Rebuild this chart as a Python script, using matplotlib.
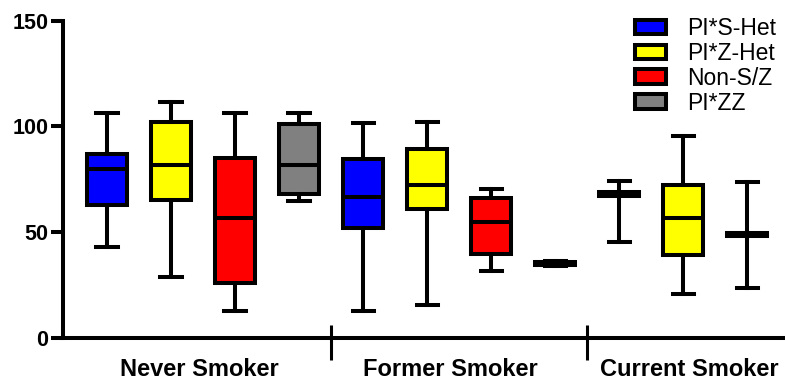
import matplotlib
matplotlib.use("Agg")
import matplotlib.pyplot as plt
from matplotlib.patches import Patch

plt.rcParams['font.family'] = ['Liberation Sans', 'DejaVu Sans']

groups = ["Never Smoker", "Former Smoker", "Current Smoker"]
genotypes = ["PI*S-Het", "PI*Z-Het", "Non-S/Z", "PI*ZZ"]
colors = {"PI*S-Het": "#0000FF", "PI*Z-Het": "#FFFF00",
          "Non-S/Z": "#FF0000", "PI*ZZ": "#808080"}

# box statistics per group: (genotype, whislo, q1, median, q3, whishi)
never_stats = [
    ("PI*S-Het", 42.8, 62.8, 79.9, 86.9, 106.5),
    ("PI*Z-Het", 28.9, 65.0, 81.9, 102.1, 111.4),
    ("Non-S/Z", 12.8, 26.0, 56.5, 84.9, 106.5),
    ("PI*ZZ", 64.7, 68.1, 81.9, 101.1, 106.5),
]
former_stats = [
    ("PI*S-Het", 12.8, 52.2, 66.7, 84.4, 101.5),
    ("PI*Z-Het", 15.8, 60.8, 72.3, 89.4, 102.2),
    ("Non-S/Z", 31.6, 39.6, 54.6, 66.4, 70.4),
    ("PI*ZZ", 34.0, 34.6, 35.2, 35.8, 36.4),
]
current_stats = [
    ("PI*S-Het", 45.5, 67.0, 68.0, 69.0, 74.3),
    ("PI*Z-Het", 21.0, 39.1, 56.5, 72.3, 95.6),
    ("Non-S/Z", 23.8, 48.0, 48.8, 49.6, 73.8),
]
all_stats = [never_stats, former_stats, current_stats]

fig = plt.figure(figsize=(7.85, 3.81), dpi=100)
ax = fig.add_axes([0.080, 0.113, 0.92, 0.8327])

lw = 2.9
pos = 0
group_edges = []
for stats in all_stats:
    for name, lo, q1, med, q3, hi in stats:
        st = dict(whislo=lo, q1=q1, med=med, q3=q3, whishi=hi, fliers=[])
        ax.bxp([st], positions=[pos], widths=0.63, showfliers=False,
               patch_artist=True, manage_ticks=False,
               boxprops=dict(facecolor=colors[name], edgecolor='black', linewidth=lw),
               medianprops=dict(color='black', linewidth=lw),
               whiskerprops=dict(color='black', linewidth=lw),
               capprops=dict(color='black', linewidth=lw),
               capwidths=0.33)
        pos += 1
    group_edges.append(pos - 0.5)

ax.set_xlim(-0.69, 10.59)
ax.set_ylim(0, 150)

for s in ['top', 'right']:
    ax.spines[s].set_visible(False)
for s in ['left', 'bottom']:
    ax.spines[s].set_linewidth(lw)

ax.set_yticks([0, 50, 100, 150])
ax.tick_params(axis='y', length=9, width=lw, pad=1.5, labelsize=15.5)
for t in ax.get_yticklabels():
    t.set_fontweight('bold')
ax.set_xticks([])

# group dividers crossing the x axis
for edge in group_edges[:-1]:
    ax.plot([edge, edge], [-10.5, 6], color='black', lw=2.2, clip_on=False,
            solid_capstyle='butt')

label_x = [1.45, 5.36, 9.09]
for gx, g in zip(label_x, groups):
    ax.text(gx, -15, g, ha='center', va='center', fontsize=17,
            fontweight='bold', clip_on=False)

handles = [Patch(facecolor=colors[g], edgecolor='black', linewidth=lw, label=g)
           for g in genotypes]
ax.legend(handles=handles, loc='upper right', bbox_to_anchor=(1.0, 1.04),
          frameon=False, fontsize=16.5, handlelength=1.35, handleheight=0.6,
          handletextpad=0.9, labelspacing=0.08, borderaxespad=0.0)

fig.savefig("out.png", dpi=100)
